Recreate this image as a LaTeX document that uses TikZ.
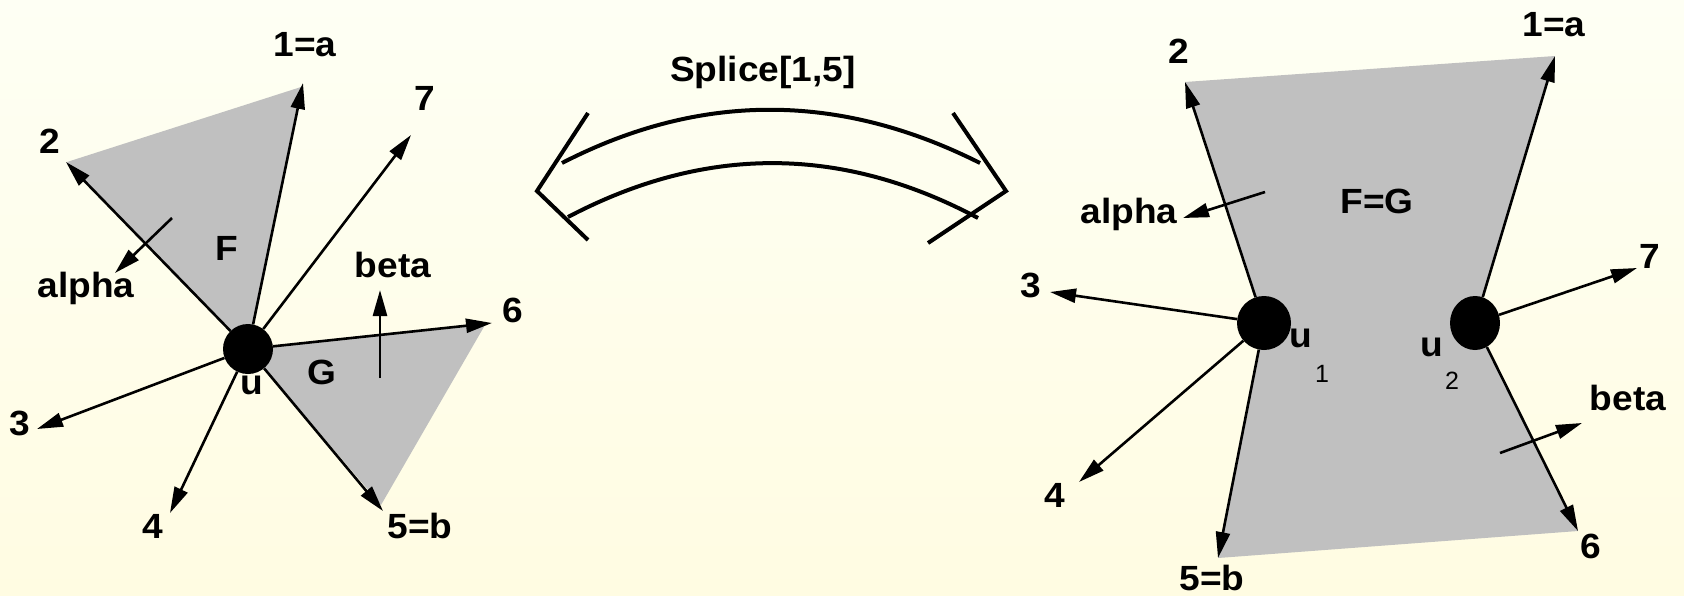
\documentclass[tikz,border=0pt]{standalone}
\usepackage{fontspec}
\setmainfont{Liberation Sans}
\usetikzlibrary{arrows.meta,shapes.geometric}
\definecolor{bgtop}{RGB}{254,255,244}
\definecolor{bgbot}{RGB}{255,252,226}
\definecolor{facegray}{RGB}{192,192,192}
\tikzset{
  arr/.style={line width=2.6pt, -{Triangle[length=26pt,width=14pt]}},
  lbl/.style={font=\fontsize{35}{40}\selectfont\bfseries, inner sep=0pt, xscale=1.06},
  sublbl/.style={font=\fontsize{25}{28}\selectfont, inner sep=0pt},
  dot/.style={circle, fill=black, minimum size=50pt, inner sep=0pt},
  face/.style={fill=facegray, draw=none},
  bigarc/.style={line width=4pt, line cap=butt, line join=miter}
}
\begin{document}
\begin{tikzpicture}[x=1pt,y=-1pt]
\shade[top color=bgtop,bottom color=bgbot] (0,0) rectangle (1684,595);
\useasboundingbox (0,0) rectangle (1684,595);

% ---------- left graph ----------
\coordinate (uc) at (248,349);
\coordinate (L1) at (303,83);
\coordinate (L2) at (66,162);
\coordinate (L7) at (411,135);
\coordinate (L6) at (492,323);
\coordinate (L5) at (383,511);
\coordinate (L4) at (170,513);
\coordinate (L3) at (37,429);
\coordinate (Fa) at (67,162);
\coordinate (Fb) at (301,87);
\coordinate (Ga) at (485,325);
\coordinate (Gb) at (381,505);
\fill[face] (uc) -- (Fa) -- (Fb) -- cycle;
\fill[face] (uc) -- (Ga) -- (Gb) -- cycle;
\node[dot] (u) at (uc) {};
\foreach \t in {L1,L2,L7,L6,L5,L4,L3} \draw[arr] (u) -- (\t);
\coordinate (la1) at (172,218);
\coordinate (la2) at (115,273);
\coordinate (lb1) at (380,378);
\coordinate (lb2) at (380,290);
\draw[arr] (la1) -- (la2);
\draw[arr] (lb1) -- (lb2);
\node[lbl] (l1a) at (305,45) {1=a};
\node[lbl] (l2) at (50,141) {2};
\node[lbl] (l7) at (425,98) {7};
\node[lbl] (lF) at (227,248) {F};
\node[lbl] (lalpha) at (86,288) {alpha};
\node[lbl] (lbeta) at (393,265) {beta};
\node[lbl] (l6) at (513,310) {6};
\node[lbl] (lG) at (322,372) {G};
\node[lbl] (lu) at (252,385) {u};
\node[lbl] (l3) at (20,423) {3};
\node[lbl] (l4) at (153,526) {4};
\node[lbl] (l5b) at (420,526) {5=b};

% ---------- splice double arrow ----------
\node[lbl] (splice) at (763,72) {Splice[1,5]};
\coordinate (a1s) at (562,163);
\coordinate (a1e) at (980,163);
\coordinate (a2s) at (568,217);
\coordinate (a2e) at (978,218);
\draw[bigarc] (a1s) .. controls (700,92) and (839,92) .. (a1e);
\draw[bigarc] (a2s) .. controls (705,145) and (841,145) .. (a2e);
\coordinate (hl1) at (588,113);
\coordinate (hlv) at (537,191);
\coordinate (hl2) at (588,240);
\coordinate (hr1) at (953,113);
\coordinate (hrv) at (1006,191);
\coordinate (hr2) at (928,243);
\draw[bigarc] (hl1) -- (hlv) -- (hl2);
\draw[bigarc] (hr1) -- (hrv) -- (hr2);

% ---------- right graph ----------
\coordinate (u1c) at (1264,323);
\coordinate (u2c) at (1475,323);
\coordinate (R2) at (1185,82);
\coordinate (R5) at (1218,558);
\coordinate (R3) at (1050,292);
\coordinate (R4) at (1079,482);
\coordinate (R1) at (1555,56);
\coordinate (R6) at (1578,531);
\coordinate (R7) at (1637,268);
\fill[face] (R2) -- (R1) -- (u2c) -- (R6) -- (R5) -- (u1c) -- cycle;
\node[dot, minimum size=54pt] (u1) at (u1c) {};
\node[ellipse, fill=black, inner sep=0pt, minimum width=50pt, minimum height=54pt] (u2) at (u2c) {};
\foreach \t in {R2,R5,R3,R4} \draw[arr] (u1) -- (\t);
\foreach \t in {R1,R6,R7} \draw[arr] (u2) -- (\t);
\coordinate (ra1) at (1265,192);
\coordinate (ra2) at (1183,218);
\coordinate (rb1) at (1500,453);
\coordinate (rb2) at (1582,423);
\draw[arr] (ra1) -- (ra2);
\draw[arr] (rb1) -- (rb2);
\node[lbl] (r2) at (1179,51) {2};
\node[lbl] (r1a) at (1554,25) {1=a};
\node[lbl] (rFG) at (1377,201) {F=G};
\node[lbl] (ralpha) at (1129,214) {alpha};
\node[lbl] (r3) at (1031,285) {3};
\node[lbl] (r7) at (1650,256) {7};
\node[lbl] (ru1) at (1301,338) {u};
\node[sublbl] (ru1s) at (1322,374) {1};
\node[lbl] (ru2) at (1432,347) {u};
\node[sublbl] (ru2s) at (1452,381) {2};
\node[lbl] (rbeta) at (1628,398) {beta};
\node[lbl] (r4) at (1055,495) {4};
\node[lbl, anchor=base] (r5b) at (1212,590) {5=b};
\node[lbl] (r6) at (1591,546) {6};
\end{tikzpicture}
\end{document}
